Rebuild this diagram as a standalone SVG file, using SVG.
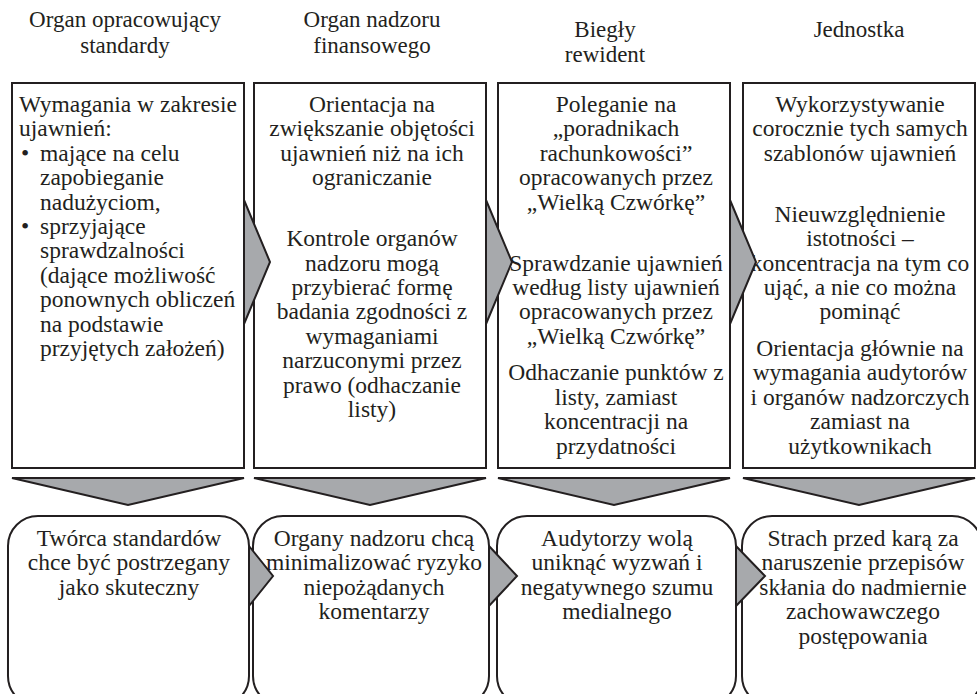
<svg xmlns="http://www.w3.org/2000/svg" width="977" height="694" viewBox="0 0 977 694">
<style>
text{font-family:"Liberation Serif","Times New Roman",serif;fill:#231f20}
.h{font-size:23px;text-anchor:middle}
.t{font-size:23.5px;text-anchor:middle}
.l{font-size:23.5px}
.box{fill:#fff;stroke:#231f20;stroke-width:2}
.arr{fill:#a7a9ac;stroke:#231f20;stroke-width:2;stroke-linejoin:miter}
</style>
<rect width="977" height="694" fill="#fff"/>
<g id="headers">
<text class="h" x="125" y="27">Organ opracowujący</text>
<text class="h" x="125" y="53">standardy</text>
<text class="h" x="372" y="27">Organ nadzoru</text>
<text class="h" x="372" y="53">finansowego</text>
<text class="h" x="605" y="37">Biegły</text>
<text class="h" x="605" y="62">rewident</text>
<text class="h" x="859" y="37">Jednostka</text>
</g>
<g id="box1">
<rect class="box" x="12" y="83" width="232" height="385"/>
<text class="l"><tspan x="19" y="112" textLength="218">Wymagania w zakresie</tspan><tspan x="19" y="136.4">ujawnień:</tspan><tspan x="21" y="160.8">•</tspan><tspan x="40" y="160.8">mające na celu</tspan><tspan x="40" y="185.2">zapobieganie</tspan><tspan x="40" y="209.6">nadużyciom,</tspan><tspan x="21" y="234">•</tspan><tspan x="40" y="234">sprzyjające</tspan><tspan x="40" y="258.4">sprawdzalności</tspan><tspan x="40" y="282.8">(dające możliwość</tspan><tspan x="40" y="307.2">ponownych obliczeń</tspan><tspan x="40" y="331.6">na podstawie</tspan><tspan x="40" y="356">przyjętych założeń)</tspan></text>
</g>
<g id="box2">
<rect class="box" x="254" y="83" width="232" height="385"/>
<text class="t"><tspan x="372" y="112">Orientacja na</tspan><tspan x="372" y="136.4">zwiększanie objętości</tspan><tspan x="372" y="160.8">ujawnień niż na ich</tspan><tspan x="372" y="185.2">ograniczanie</tspan><tspan x="372" y="246.2">Kontrole organów</tspan><tspan x="372" y="270.6">nadzoru mogą</tspan><tspan x="372" y="295">przybierać formę</tspan><tspan x="372" y="319.4">badania zgodności z</tspan><tspan x="372" y="343.8">wymaganiami</tspan><tspan x="372" y="368.2">narzuconymi przez</tspan><tspan x="372" y="392.6">prawo (odhaczanie</tspan><tspan x="372" y="417">listy)</tspan></text>
</g>
<g id="box3">
<rect class="box" x="498" y="83" width="232" height="385"/>
<text class="t"><tspan x="616" y="112">Poleganie na</tspan><tspan x="616" y="136.4">„poradnikach</tspan><tspan x="616" y="160.8">rachunkowości”</tspan><tspan x="616" y="185.2">opracowanych przez</tspan><tspan x="616" y="209.6">„Wielką Czwórkę”</tspan><tspan x="616" y="270.6">Sprawdzanie ujawnień</tspan><tspan x="616" y="295">według listy ujawnień</tspan><tspan x="616" y="319.4">opracowanych przez</tspan><tspan x="616" y="343.8">„Wielką Czwórkę”</tspan><tspan x="616" y="380.4">Odhaczanie punktów z</tspan><tspan x="616" y="404.8">listy, zamiast</tspan><tspan x="616" y="429.2">koncentracji na</tspan><tspan x="616" y="453.6">przydatności</tspan></text>
</g>
<g id="box4">
<rect class="box" x="743" y="83" width="232" height="385"/>
<text class="t"><tspan x="860" y="112">Wykorzystywanie</tspan><tspan x="860" y="136.4">corocznie tych samych</tspan><tspan x="860" y="160.8">szablonów ujawnień</tspan><tspan x="860" y="221.8">Nieuwzględnienie</tspan><tspan x="860" y="246.2">istotności –</tspan><tspan x="860" y="270.6">koncentracja na tym co</tspan><tspan x="860" y="295">ująć, a nie co można</tspan><tspan x="860" y="319.4">pominąć</tspan><tspan x="860" y="356">Orientacja głównie na</tspan><tspan x="860" y="380.4">wymagania audytorów</tspan><tspan x="860" y="404.8">i organów nadzorczych</tspan><tspan x="860" y="429.2">zamiast na</tspan><tspan x="860" y="453.6">użytkownikach</tspan></text>
</g>
<g id="rbox1">
<rect class="box" x="8" y="516" width="241" height="190" rx="30" ry="30"/>
<text class="t"><tspan x="129" y="546">Twórca standardów</tspan><tspan x="129" y="570.4">chce być postrzegany</tspan><tspan x="129" y="594.8">jako skuteczny</tspan></text>
</g>
<g id="rbox2">
<rect class="box" x="253" y="516" width="236" height="190" rx="30" ry="30"/>
<text class="t"><tspan x="374" y="546">Organy nadzoru chcą</tspan><tspan x="374" y="570.4">minimalizować ryzyko</tspan><tspan x="374" y="594.8">niepożądanych</tspan><tspan x="374" y="619.2">komentarzy</tspan></text>
</g>
<g id="rbox3">
<rect class="box" x="497" y="516" width="239" height="190" rx="30" ry="30"/>
<text class="t"><tspan x="617" y="546">Audytorzy wolą</tspan><tspan x="617" y="570.4">uniknąć wyzwań i</tspan><tspan x="617" y="594.8">negatywnego szumu</tspan><tspan x="617" y="619.2">medialnego</tspan></text>
</g>
<g id="rbox4">
<rect class="box" x="742" y="516" width="240" height="190" rx="30" ry="30"/>
<text class="t"><tspan x="863" y="546">Strach przed karą za</tspan><tspan x="863" y="570.4">naruszenie przepisów</tspan><tspan x="863" y="594.8">skłania do nadmiernie</tspan><tspan x="863" y="619.2">zachowawczego</tspan><tspan x="863" y="643.6">postępowania</tspan></text>
</g>
<g id="connectors">
<polygon class="arr" points="244,200 270,262 244,324"/>
<polygon class="arr" points="486,200 512,262 486,324"/>
<polygon class="arr" points="730,200 756,262 730,324"/>
<polygon class="arr" points="12,478 244,478 128,505"/>
<polygon class="arr" points="254,478 486,478 370,505"/>
<polygon class="arr" points="498,478 730,478 614,505"/>
<polygon class="arr" points="743,478 975,478 859,505"/>
<polygon class="arr" points="249,546 273,576 249,606"/>
<polygon class="arr" points="489,546 517,576 489,606"/>
<polygon class="arr" points="736,546 765,576 736,606"/>
</g>
</svg>
